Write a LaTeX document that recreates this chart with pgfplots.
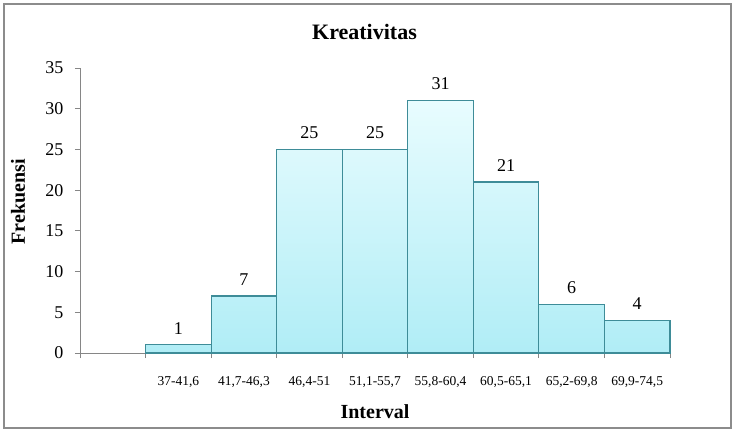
\documentclass[border=0pt]{standalone}
\usepackage{pgfplots}
\pgfplotsset{compat=1.18}
\usetikzlibrary{calc}
\usepackage{fontspec}
\setmainfont{Liberation Serif}
\definecolor{edgec}{RGB}{62,140,152}
\definecolor{topc}{RGB}{232,252,254}
\definecolor{botc}{RGB}{176,237,246}
\definecolor{axc}{RGB}{134,134,134}
\definecolor{framec}{RGB}{140,140,140}
\begin{document}
\begin{tikzpicture}[x=1pt,y=1pt]
\begin{axis}[
  name=ax, at={(0,0)}, anchor=south west,
  scale only axis, width=590pt, height=285pt,
  xmin=0, xmax=9, ymin=0, ymax=35,
  axis lines*=left,
  axis line style={axc, line width=0.8pt},
  tick style={axc, line width=0.8pt},
  major tick length=5pt,
  tick align=outside,
  xtick={0,...,9}, xticklabels={{},{},{},{},{},{},{},{},{},{}},
  extra x ticks={1.5,2.5,3.5,4.5,5.5,6.5,7.5,8.5},
  extra x tick labels={{37-41,6},{41,7-46,3},{46,4-51},{51,1-55,7},{55,8-60,4},{60,5-65,1},{65,2-69,8},{69,9-74,5}},
  extra x tick style={major tick length=0pt, tick label style={font=\fontsize{13.5}{15}\selectfont, yshift=-20pt}},
  ytick={0,5,...,35},
  yticklabel style={font=\fontsize{18}{20}\selectfont, xshift=-8pt},
  /pgf/number format/assume math mode=true,
  clip=false,
]
\addplot[ybar, bar width=1, draw=edgec, line width=1.1pt, top color=topc, bottom color=botc]
  coordinates {(1.5,1) (2.5,7) (3.5,25) (4.5,25) (5.5,31) (6.5,21) (7.5,6) (8.5,4)};
\addplot[only marks, mark=none, nodes near coords,
  nodes near coords style={font=\fontsize{18}{20}\selectfont, text=black, anchor=south, yshift=7pt},
  point meta=explicit symbolic]
  coordinates {(1.5,1)[1] (2.5,7)[7] (3.5,25)[25] (4.5,25)[25] (5.5,31)[31] (6.5,21)[21] (7.5,6)[6] (8.5,4)[4]};
\end{axis}
\path (ax.south west) ++(-80pt,-81pt) rectangle ++(736pt,434pt);
\draw[framec, line width=1.6pt] (ax.south west) ++(-76pt,-75pt) rectangle ++(727pt,424pt);
\node[font=\bfseries\fontsize{22}{25}\selectfont] at ($(ax.south west)+(284.5pt,321pt)$) {Kreativitas};
\node[font=\bfseries\fontsize{20}{23}\selectfont, rotate=90] at ($(ax.south west)+(-62pt,151pt)$) {Frekuensi};
\node[font=\bfseries\fontsize{20}{23}\selectfont] at ($(ax.south west)+(295pt,-59pt)$) {Interval};
\end{tikzpicture}
\end{document}
